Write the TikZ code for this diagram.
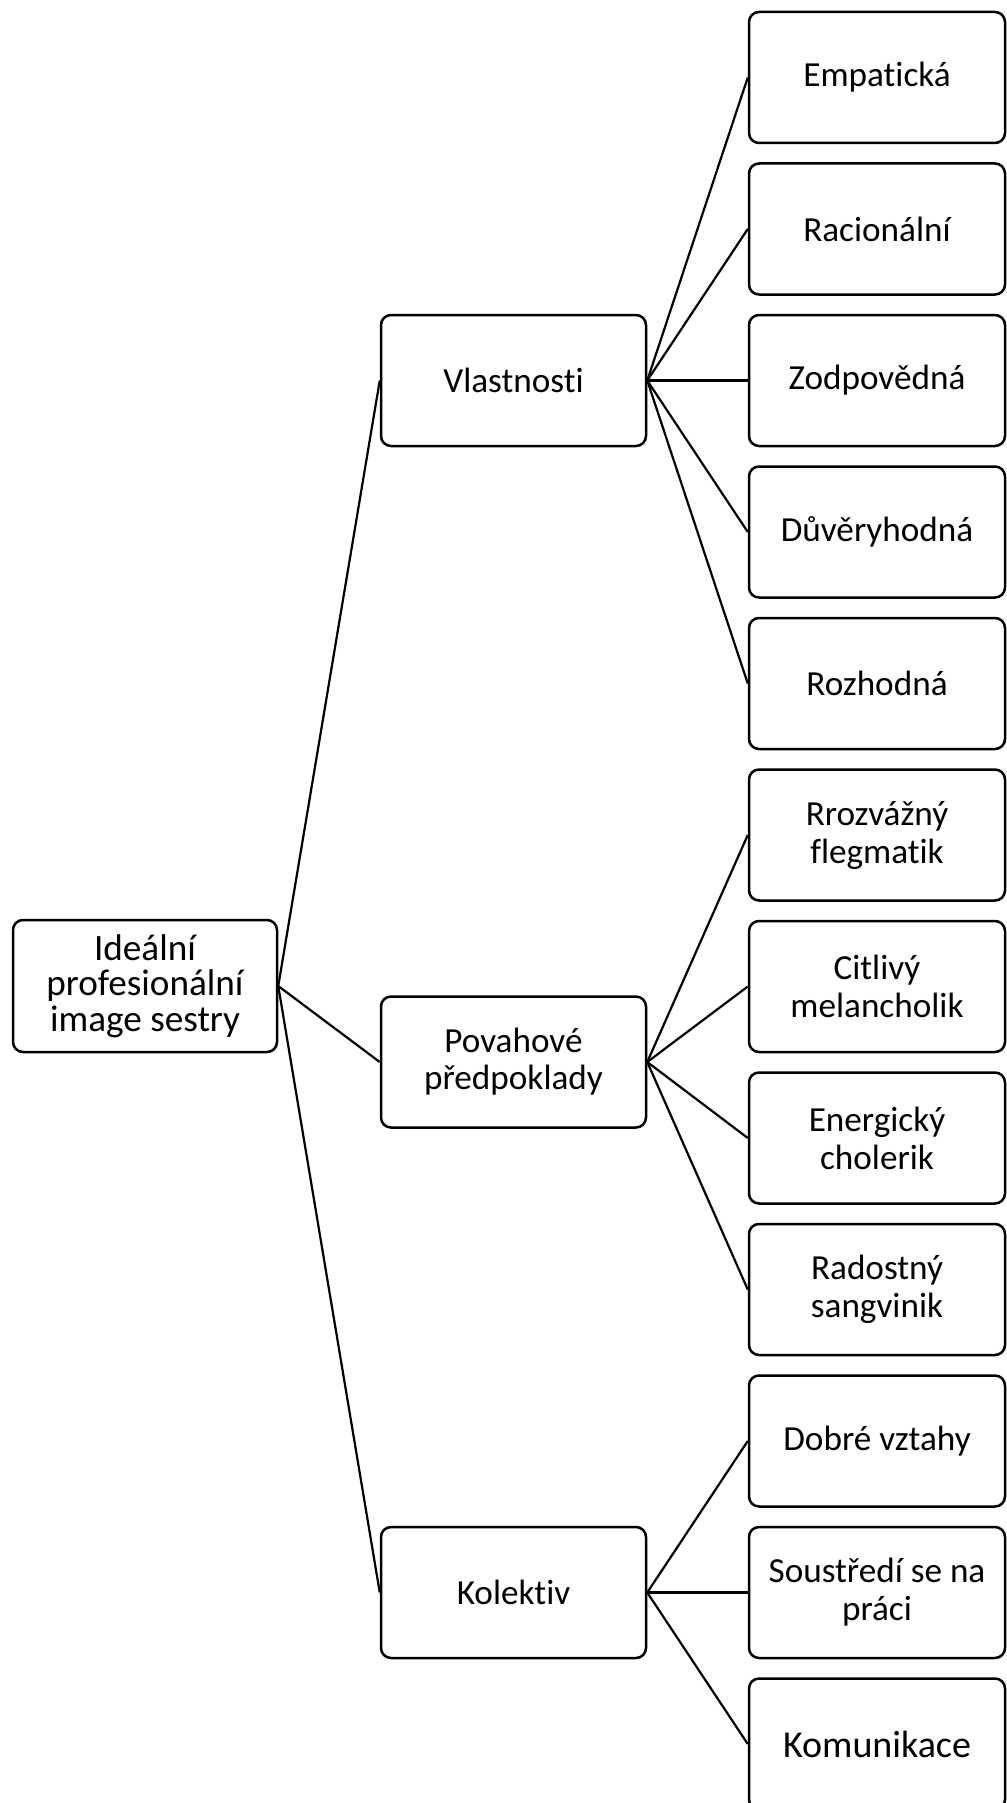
\documentclass[tikz,border=0pt]{standalone}
\usepackage{fontspec}
\setmainfont{Carlito}[Ligatures=NoCommon]
\begin{document}
\begin{tikzpicture}[x=0.5pt,y=-0.5pt,
  box/.style={draw=black, line width=1.25pt, rounded corners=5pt, fill=white, align=center, inner sep=2pt},
  leaf/.style={box, minimum width=128pt, minimum height=65.5pt, font=\fontsize{17.6pt}{19pt}\selectfont},
  mid/.style={box, minimum width=132.5pt, minimum height=65.5pt, font=\fontsize{17.6pt}{18.6pt}\selectfont},
  rootbox/.style={box, minimum width=132pt, minimum height=66pt, font=\fontsize{18.6pt}{17.8pt}\selectfont},
  link/.style={line width=1.1pt}]
\useasboundingbox (0,0) rectangle (1006,1803);
% root
\node[rootbox] (root) at (145,986) {Ideální\\profesionální\\image sestry};
% level 2
\node[mid] (vl) at (513.5,380.5) {Vlastnosti};
\node[mid] (po) at (513.5,1062) {Povahové\\předpoklady};
\node[mid] (ko) at (513.5,1592.5) {Kolektiv};
% level 3
\node[leaf] (e1) at (877,77.5) {Empatická};
\node[leaf] (e2) at (877,229) {Racionální};
\node[leaf] (e3) at (877,380.5) {Zodpovědná};
\node[leaf] (e4) at (877,532) {Důvěryhodná};
\node[leaf] (e5) at (877,683.5) {Rozhodná};
\node[leaf] (p1) at (877,835) {Rrozvážný\\flegmatik};
\node[leaf] (p2) at (877,986.5) {Citlivý\\melancholik};
\node[leaf] (p3) at (877,1138) {Energický\\cholerik};
\node[leaf] (p4) at (877,1289.5) {Radostný\\sangvinik};
\node[leaf] (k1) at (877,1441) {Dobré vztahy};
\node[leaf] (k2) at (877,1592.5) {Soustředí se na\\práci};
\node[leaf, font=\fontsize{19pt}{17pt}\selectfont] (k3) at (877,1744) {Komunikace};
% connectors
\foreach \t in {vl,po,ko} \draw[link] (root.east) -- (\t.west);
\foreach \t in {e1,e2,e3,e4,e5} \draw[link] (vl.east) -- (\t.west);
\foreach \t in {p1,p2,p3,p4} \draw[link] (po.east) -- (\t.west);
\foreach \t in {k1,k2,k3} \draw[link] (ko.east) -- (\t.west);
\end{tikzpicture}
\end{document}
